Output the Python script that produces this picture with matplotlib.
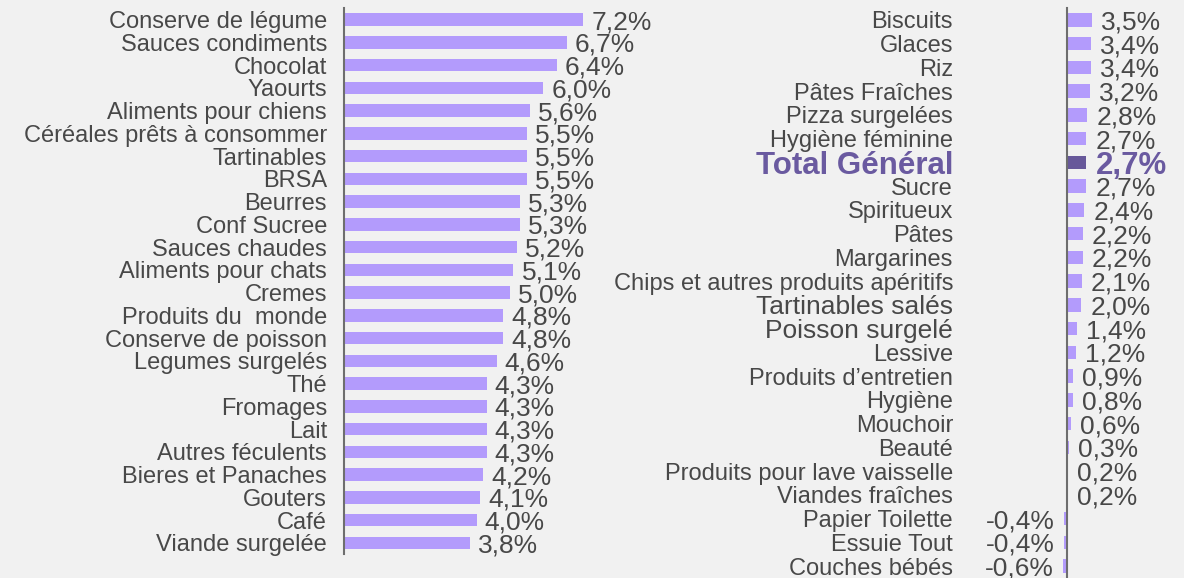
import matplotlib
matplotlib.use("Agg")
import matplotlib.pyplot as plt

left_categories = ["Conserve de légume", "Sauces condiments", "Chocolat", "Yaourts",
                   "Aliments pour chiens", "Céréales prêts à consommer", "Tartinables", "BRSA",
                   "Beurres", "Conf Sucree", "Sauces chaudes", "Aliments pour chats", "Cremes",
                   "Produits du  monde", "Conserve de poisson", "Legumes surgelés", "Thé",
                   "Fromages", "Lait", "Autres féculents", "Bieres et Panaches", "Gouters",
                   "Café", "Viande surgelée"]
left_values = [7.2, 6.7, 6.4, 6.0, 5.6, 5.5, 5.5, 5.5, 5.3, 5.3, 5.2, 5.1, 5.0,
               4.8, 4.8, 4.6, 4.3, 4.3, 4.3, 4.3, 4.2, 4.1, 4.0, 3.8]

right_categories = ["Biscuits", "Glaces", "Riz", "Pâtes Fraîches", "Pizza surgelées",
                    "Hygiène féminine", "Total Général", "Sucre", "Spiritueux", "Pâtes",
                    "Margarines", "Chips et autres produits apéritifs", "Tartinables salés",
                    "Poisson surgelé", "Lessive", "Produits d’entretien", "Hygiène", "Mouchoir",
                    "Beauté", "Produits pour lave vaisselle", "Viandes fraîches",
                    "Papier Toilette", "Essuie Tout", "Couches bébés"]
right_values = [3.5, 3.4, 3.4, 3.2, 2.8, 2.7, 2.7, 2.7, 2.4, 2.2, 2.2, 2.1, 2.0,
                1.4, 1.2, 0.9, 0.8, 0.6, 0.3, 0.2, 0.2, -0.4, -0.4, -0.6]
total_label = "Total Général"
large_labels = ["Tartinables salés", "Poisson surgelé"]

BG = "#f1f1f1"
BAR = "#b39bfc"
TOTAL = "#67589a"
TXT = "#484848"
SPINE = "#6e6e6e"
FONT = ["Liberation Sans", "DejaVu Sans"]

W, H = 1184, 578
fig = plt.figure(figsize=(W / 100, H / 100), dpi=100, facecolor=BG)

PX = 72 / 100  # points per pixel


def fmt(v):
    return f"{v:.1f}".replace(".", ",") + "%"


def setup(ax):
    ax.set_facecolor(BG)
    for s in ["top", "right", "bottom"]:
        ax.spines[s].set_visible(False)
    ax.spines["left"].set_color(SPINE)
    ax.spines["left"].set_linewidth(1.5)
    ax.set_xticks([])
    ax.set_yticks([])
    ax.patch.set_alpha(0)


# Left panel
axL = fig.add_axes([343.5 / W, (H - 554.3) / H, 300 / W, 546 / H])
setup(axL)
yL = list(range(len(left_categories)))
axL.barh(yL, left_values, height=0.55, color=BAR, zorder=2)
axL.set_xlim(0, 300 / 33.33)
axL.set_ylim(len(left_categories) - 0.5, -0.5)
for i, (c, v) in enumerate(zip(left_categories, left_values)):
    axL.annotate(c, xy=(0, i), xytext=(-16.5 * PX, 0), textcoords="offset points",
                 ha="right", va="center_baseline", fontsize=17, color=TXT, family=FONT)
    axL.annotate(fmt(v), xy=(v, i), xytext=(8 * PX, 0), textcoords="offset points",
                 ha="left", va="center_baseline", fontsize=19, color=TXT, family=FONT)

# Right panel
scaleR = 7.2
axR = fig.add_axes([1040 / W, 0, 144 / W, 570 / H])
setup(axR)
yR = list(range(len(right_categories)))
colors = [TOTAL if c == total_label else BAR for c in right_categories]
axR.barh(yR, right_values, height=0.56, color=colors, zorder=2)
axR.set_xlim(-27 / scaleR, 117 / scaleR)
axR.spines["left"].set_position(("data", 0))
axR.set_ylim(len(right_categories) - 0.5, -0.5)
for i, (c, v) in enumerate(zip(right_categories, right_values)):
    if c == total_label:
        kw = dict(fontsize=22.5, color="#6a5aa0", fontweight="bold")
        vkw = dict(fontsize=22.5, color="#6a5aa0", fontweight="bold")
    elif c in large_labels:
        kw = dict(fontsize=19, color=TXT)
        vkw = dict(fontsize=19, color=TXT)
    else:
        kw = dict(fontsize=17, color=TXT)
        vkw = dict(fontsize=19, color=TXT)
    axR.annotate(c, xy=(0, i), xytext=(-114 * PX, 0), textcoords="offset points",
                 ha="right", va="center_baseline", family=FONT, **kw)
    if v >= 0:
        axR.annotate(fmt(v), xy=(v, i), xytext=(9 * PX, 0), textcoords="offset points",
                     ha="left", va="center_baseline", family=FONT, **vkw)
    else:
        axR.annotate(fmt(v), xy=(v, i), xytext=(-9 * PX, 0), textcoords="offset points",
                     ha="right", va="center_baseline", family=FONT, **vkw)

fig.savefig("out.png", dpi=100, facecolor=BG)
